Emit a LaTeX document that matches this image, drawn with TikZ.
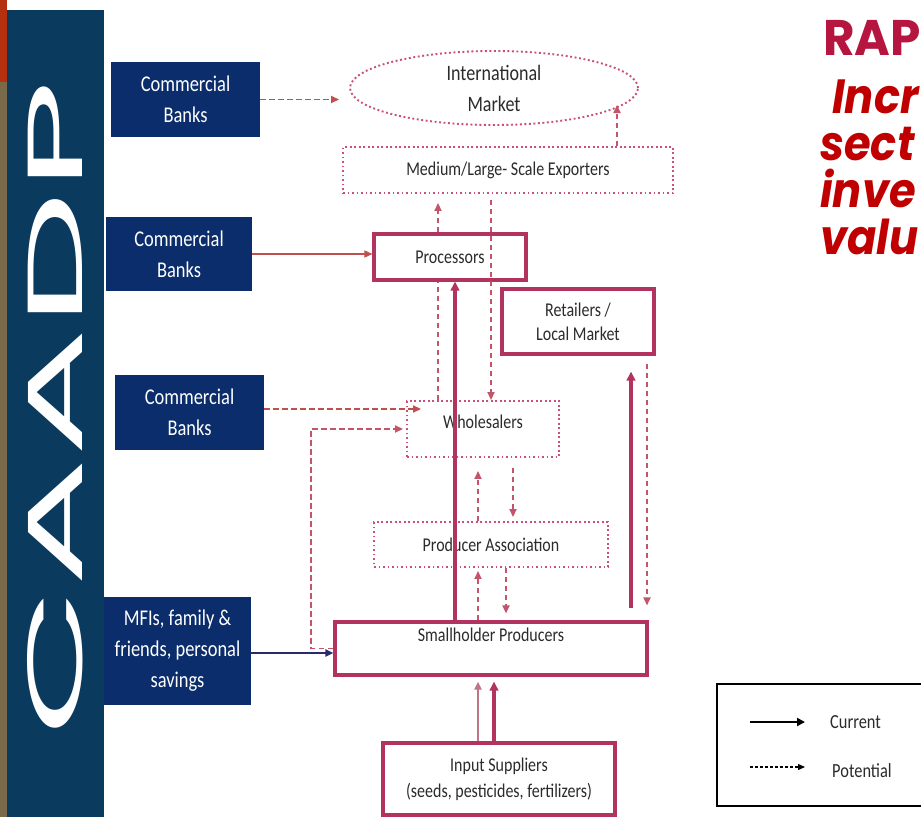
\documentclass[tikz,border=0pt]{standalone}
\usepackage{fontspec}
\setmainfont[FakeStretch=0.82]{Carlito}
\newfontfamily\popp[FakeStretch=0.9]{Poppins}
\newfontfamily\poppr[FakeStretch=0.97]{Poppins}
\newfontfamily\poppc{Poppins}
\usetikzlibrary{arrows.meta,shapes.geometric,calc}
\definecolor{panel}{HTML}{0A3A5E}
\definecolor{bankblue}{HTML}{0B2D6B}
\definecolor{crim}{HTML}{B2335F}
\definecolor{dotc}{HTML}{C8507A}
\definecolor{dashc}{HTML}{C2556A}
\definecolor{dashb}{HTML}{C0504D}
\definecolor{olive}{HTML}{7A6A4A}
\definecolor{topred}{HTML}{B5300F}
\definecolor{raptxt}{HTML}{B5153F}
\definecolor{redtxt}{HTML}{C00000}
\definecolor{navyarr}{HTML}{2A2A6A}
\definecolor{txt}{HTML}{2B2B2B}
\definecolor{lightcrim}{HTML}{C07585}
\begin{document}
\begin{tikzpicture}[x=1pt,y=-1pt,
  >={Triangle[length=8pt,width=7pt]},
  bank/.style={fill=bankblue,text=white,align=center,inner sep=0pt,font=\fontsize{22.5}{31}\selectfont},
  sbox/.style={draw=crim,line width=3.1pt,fill=white,text=txt,align=center,inner sep=0pt,font=\fontsize{19.5}{24}\selectfont},
  dbox/.style={draw=dotc,line width=1.9pt,dash pattern=on 1.9pt off 2.6pt,text=txt,align=center,inner sep=0pt,font=\fontsize{19.5}{24}\selectfont},
  lbl/.style={text=txt,inner sep=0pt,font=\fontsize{19.5}{24}\selectfont},
  pot/.style={draw=dashc,line width=1.7pt,dash pattern=on 5.5pt off 3.5pt,->},
  potb/.style={pot,draw=dashb},
  cur/.style={draw=crim,line width=3.1pt,-{Triangle[length=9pt,width=8.5pt]}},
  rtext/.style={anchor=base west,inner sep=0pt,text=redtxt,font=\popp\bfseries\itshape\fontsize{48}{56}\selectfont},
]
\useasboundingbox (0,0) rectangle (921,817);
\fill[white] (0,0) rectangle (921,817);
% left band
\fill[olive] (0,0) rectangle (7,817);
\fill[topred] (0,0) rectangle (7,82);
\fill[panel] (7,10) rectangle (104,817);
\node[rotate=90,text=white,inner sep=0pt,font=\poppc\fontsize{78}{80}\selectfont] (caadp) at (55,408) {\scalebox{2.47}[1]{CAADP}};
% right title text
\node[anchor=base west,inner sep=0pt,text=raptxt,font=\poppr\bfseries\fontsize{50}{60}\selectfont] (rap) at (823,55) {RAP};
\node[rtext] (t1) at (832,113) {Incr};
\node[rtext] (t2) at (820,160) {sect};
\node[rtext] (t3) at (820,207) {inve};
\node[rtext] (t4) at (820,254) {valu};
% finance boxes
\node[bank,minimum width=149pt,minimum height=75pt] (b1) at (185.5,99.5) {Commercial\\Banks};
\node[bank,minimum width=146pt,minimum height=74pt] (b2) at (179,254) {Commercial\\Banks};
\node[bank,minimum width=149pt,minimum height=75pt] (b3) at (189.5,412.5) {Commercial\\Banks};
\node[bank,minimum width=147pt,minimum height=108pt] (mf) at (177.5,651) {MFIs, family \&\\friends, personal\\savings};
% chain boxes
\node[dbox,ellipse,minimum width=288pt,minimum height=74pt,font=\fontsize{22}{31}\selectfont] (im) at (494,88) {International\\Market};
\node[dbox,minimum width=330pt,minimum height=46pt] (ex) at (508,170) {Medium/Large- Scale Exporters};
\node[sbox,minimum width=152pt,minimum height=46pt] (pr) at (450,257) {Processors};
\node[sbox,minimum width=152pt,minimum height=65pt] (rt) at (578,321.5) {Retailers /\\Local Market};
\node[dbox,minimum width=152pt,minimum height=56pt] (wh) at (483,429) {};
\node[lbl] (whT) at (483,422) {Wholesalers};
\node[dbox,minimum width=234pt,minimum height=45pt] (pa) at (491,544.5) {Producer Association};
\node[sbox,minimum width=312pt,minimum height=53pt] (sh) at (491,648.5) {};
\node[lbl] (shT) at (491,635) {Smallholder Producers};
\node[sbox,minimum width=232pt,minimum height=72pt,font=\fontsize{19.5}{26}\selectfont] (is) at (499,779) {Input Suppliers\\(seeds, pesticides, fertilizers)};
% finance connectors
\draw[potb,shorten >=10pt] (b1.east) -- (b1.east -| im.west);
\draw[draw=dashb,line width=1.5pt,->] (b2.east) -- (b2.east -| pr.west);
\draw[potb] ([yshift=3.5pt]b3.east) -- ([yshift=3.5pt,xshift=15pt]b3.east -| wh.west);
\coordinate (lp) at (311,429);
\draw[pot,shorten >=3pt] (sh.west) -| (lp) -- (lp -| wh.west);
\draw[draw=navyarr,line width=1.9pt,->] ([yshift=-2pt]mf.east) -- ([yshift=-2pt]mf.east -| sh.west);
% upper chain
\coordinate (imA) at (617,105);
\draw[pot] ([xshift=109pt]ex.north) -- (imA);
\draw[pot,shorten >=9pt] ([xshift=-12pt]pr.north) -- ([xshift=-12pt]pr.north |- ex.south);
\draw[draw=dashc,line width=1.7pt,dash pattern=on 5.5pt off 3.5pt] ([xshift=-45pt]wh.north) -- ([xshift=-45pt]wh.north |- pr.south);
\draw[pot,shorten <=6pt] ([xshift=-17pt]ex.south) -- ([xshift=-17pt]ex.south |- wh.north);
% main current flow
\draw[cur] ([xshift=-36pt]sh.north) -- ([xshift=-36pt]sh.north |- pr.south);
% wholesalers / producer association
\draw[pot,shorten <=10pt,shorten >=4pt] ([xshift=30pt]wh.south) -- ([xshift=30pt]wh.south |- pa.north);
\draw[pot,shorten >=13pt] ([xshift=-13pt]pa.north) -- ([xshift=-13pt]pa.north |- wh.south);
\draw[pot,shorten >=3pt] ([xshift=-13pt]sh.north) -- ([xshift=-13pt]sh.north |- pa.south);
\draw[pot,shorten >=7pt] ([xshift=15pt]pa.south) -- ([xshift=15pt]pa.south |- sh.north);
% retailers
\draw[cur,shorten <=12pt,shorten >=16pt] ([xshift=140pt]sh.north) -- ([xshift=140pt]sh.north |- rt.south);
\draw[pot,shorten <=8pt,shorten >=15pt] ([xshift=69pt]rt.south) -- ([xshift=69pt]rt.south |- sh.north);
% input suppliers
\draw[draw=lightcrim,line width=1.9pt,->,shorten >=5pt] ([xshift=-21pt]is.north) -- ([xshift=-21pt]is.north |- sh.south);
\draw[cur,shorten >=5pt] ([xshift=-5pt]is.north) -- ([xshift=-5pt]is.north |- sh.south);
% legend
\node[draw=black,line width=1.3pt,minimum width=208pt,minimum height=122pt,inner sep=0pt] (leg) at (821,745) {};
\coordinate (lc1) at (750,722);
\coordinate (lc2) at (805,722);
\coordinate (lp1) at (750,767);
\coordinate (lp2) at (805,767);
\draw[black,line width=2.8pt,-{Triangle[length=8pt,width=8pt]}] (lc1) -- (lc2);
\draw[black,line width=1.2pt,dash pattern=on 3pt off 2pt,-{Triangle[length=7pt,width=6pt]}] (lp1) -- (lp2);
\node[anchor=west,inner sep=0pt,text=txt,font=\fontsize{20}{24}\selectfont] (lgc) at (830,722) {Current};
\node[anchor=west,inner sep=0pt,text=txt,font=\fontsize{20}{24}\selectfont] (lgp) at (832,771) {Potential};
\end{tikzpicture}
\end{document}
